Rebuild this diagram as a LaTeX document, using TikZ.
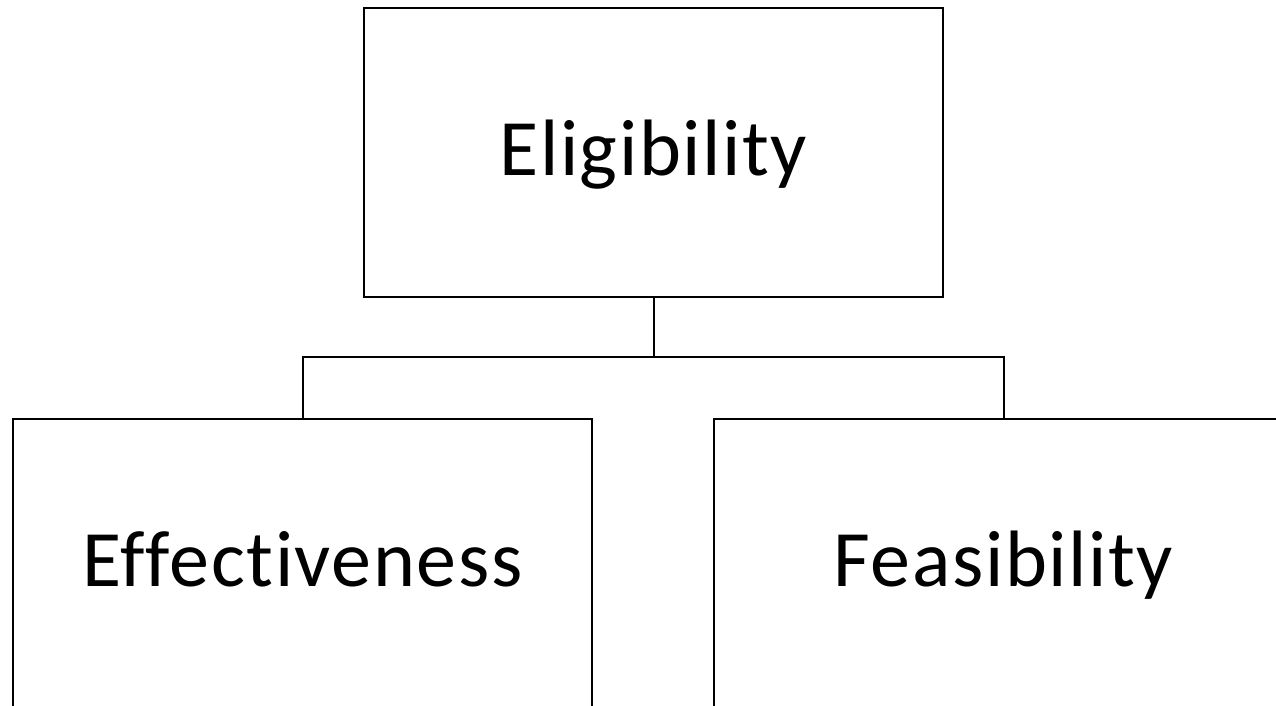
\documentclass[tikz,border=0pt]{standalone}
\usepackage{fontspec}
\setmainfont[Ligatures=NoCommon,LetterSpace=2]{Carlito}
\begin{document}
\begin{tikzpicture}[x=1pt,y=-1pt,line width=2pt]

      \useasboundingbox (0,0) rectangle (1276,706);
      \clip (0,0) rectangle (1276,706);

      \begin{scope}[every node/.style={rectangle,draw,minimum width=579pt,minimum height=289pt,inner sep=0pt,outer sep=0pt,text height=45pt,text depth=0pt,font=\fontsize{80}{96}\selectfont}]
        \node (elig)   at (653.5,152.5)  {Eligibility};
        \node (effect) at (302.5,563.5)  {Effectiveness};
        \node (feas)   at (1003.5,563.5) {Feasibility};
      \end{scope}

      \coordinate (branch) at (653.5,357);

      \draw (elig.south) -- (branch);
      \draw (effect.north) |- (branch) -| (feas.north);

    \end{tikzpicture}
\end{document}
